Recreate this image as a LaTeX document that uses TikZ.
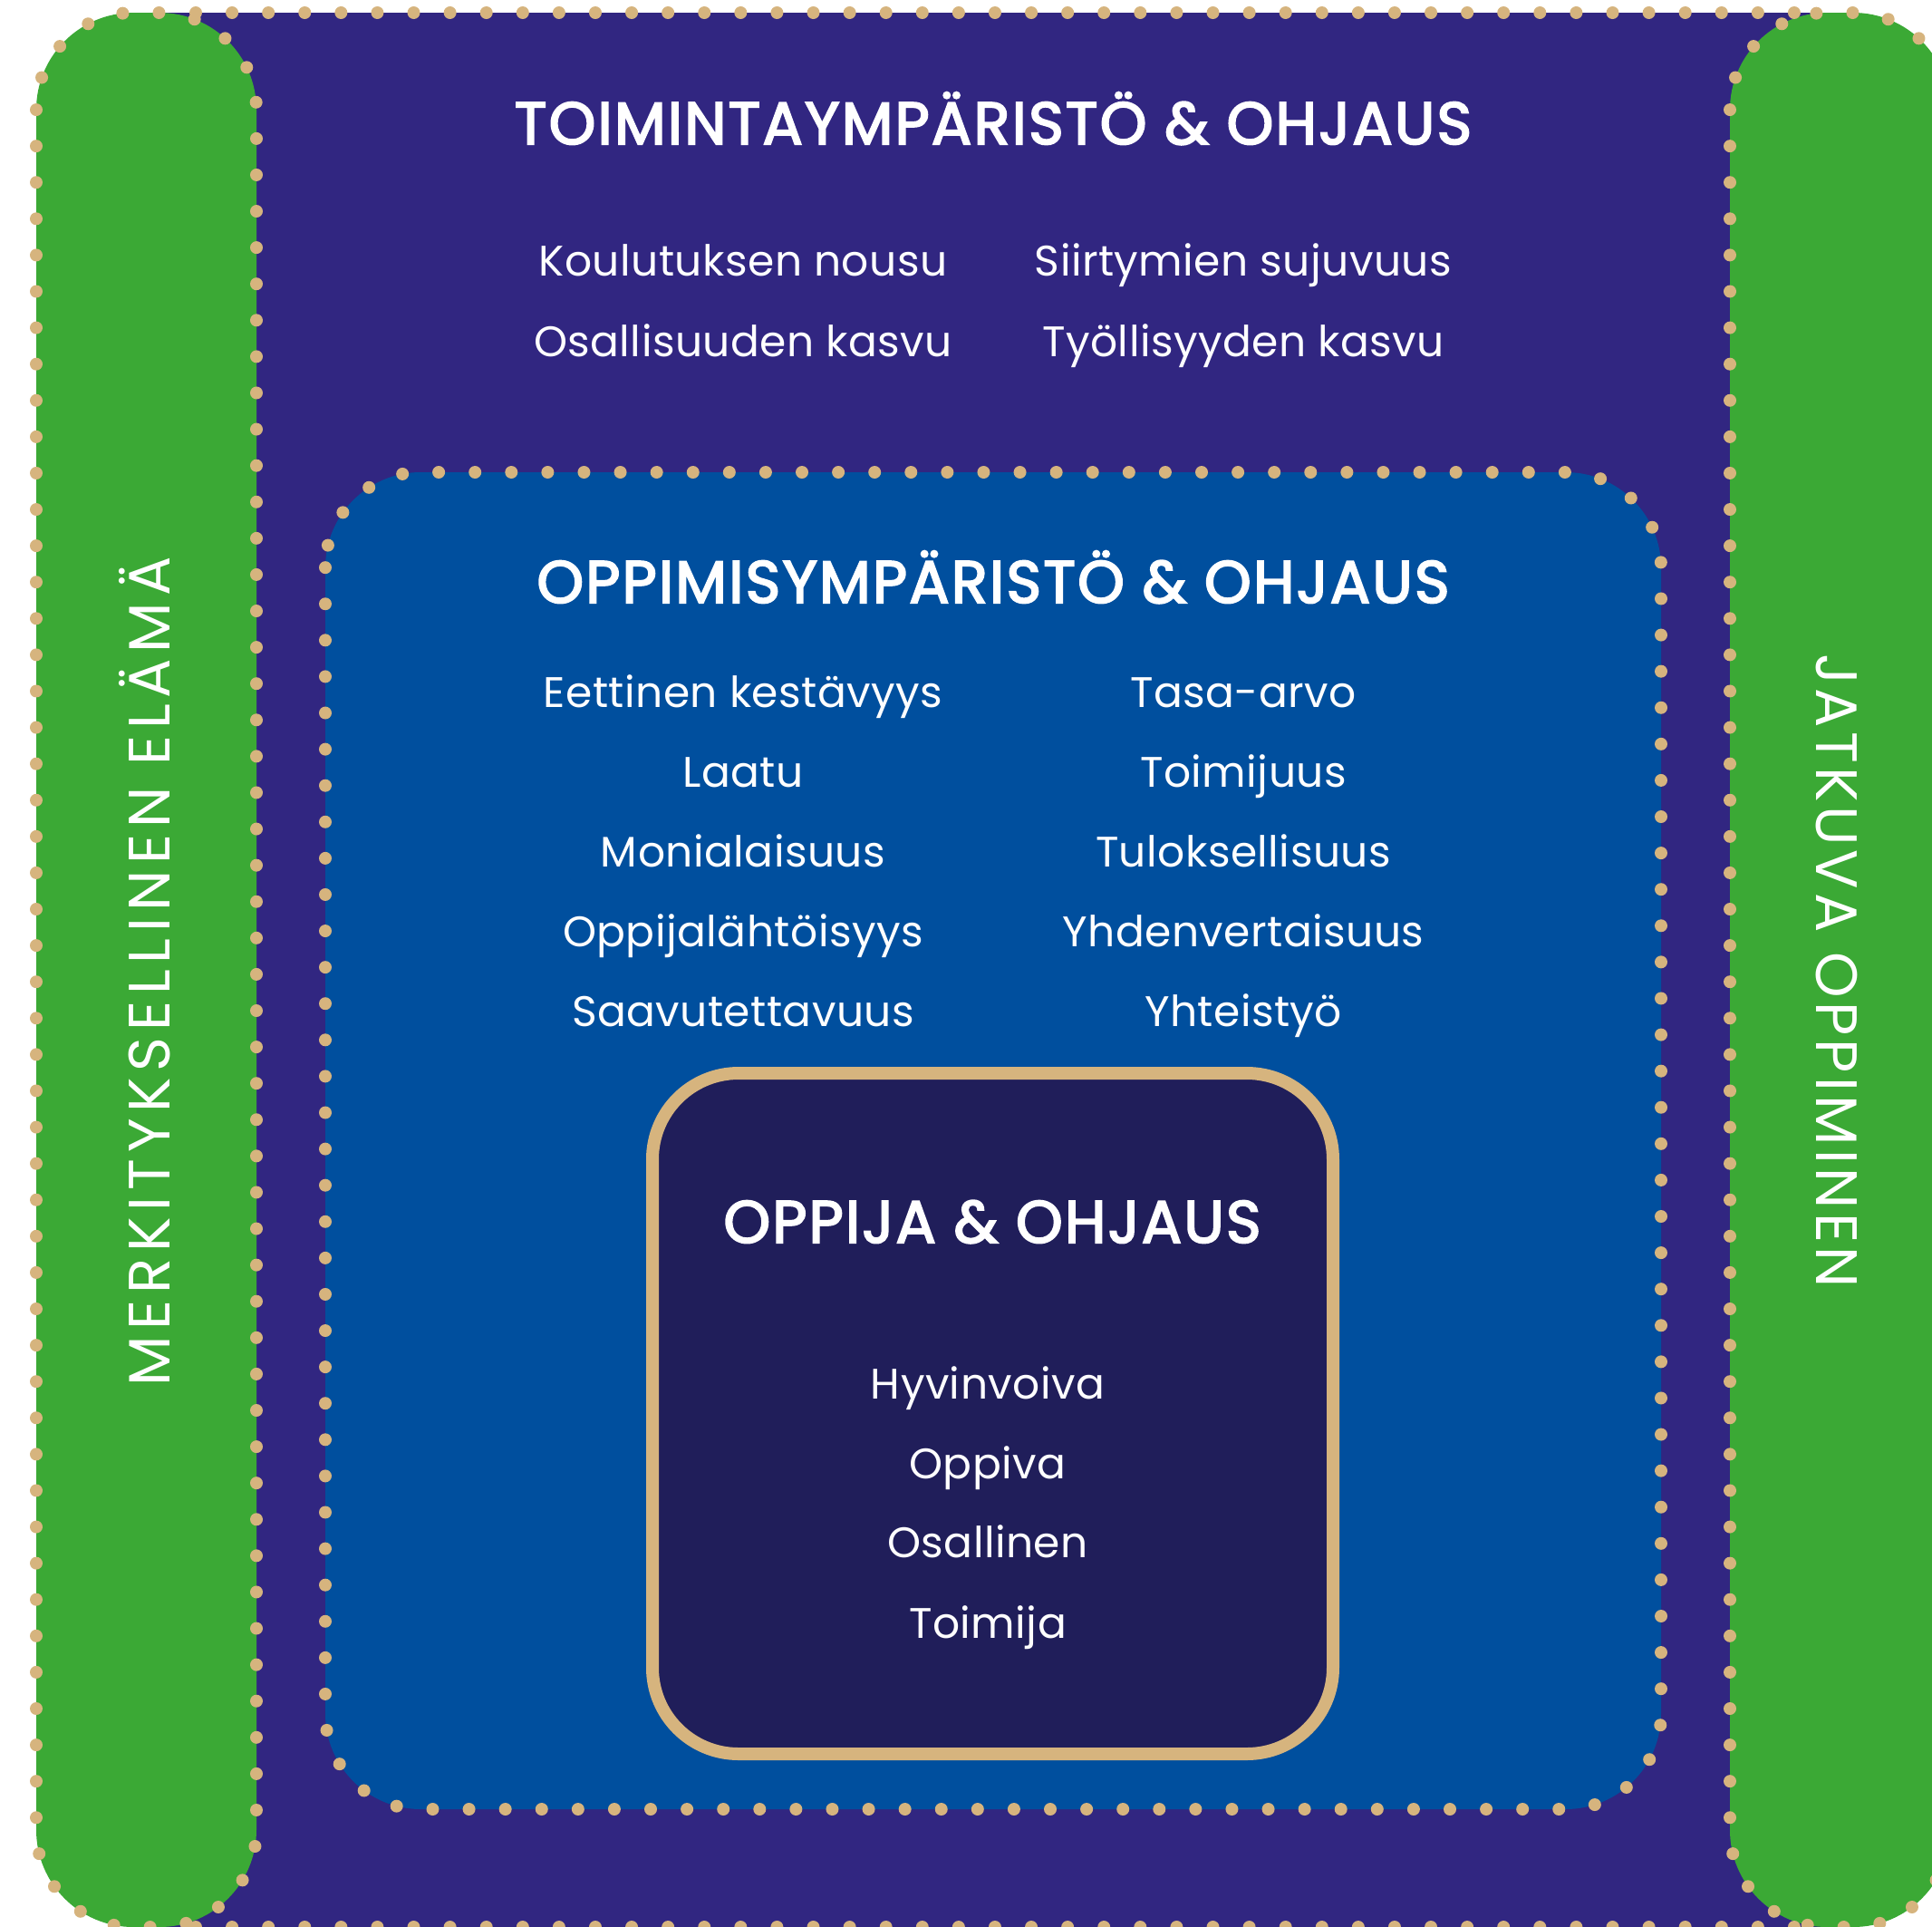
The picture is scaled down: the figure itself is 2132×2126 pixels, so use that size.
\documentclass[tikz,border=0pt]{standalone}
\usepackage{fontspec}
\setmainfont{Poppins}
\newfontfamily\ttlfont{Poppins}[FakeBold=3,LetterSpace=3.4]
\newfontfamily\itemfont{Poppins}[LetterSpace=1]
\newfontfamily\sidefontA{Poppins}[LetterSpace=10.6]
\newfontfamily\sidefontB{Poppins}[LetterSpace=6.8]
\definecolor{cpurple}{RGB}{49,38,129}
\definecolor{cgreen}{RGB}{59,169,53}
\definecolor{cblue}{RGB}{0,79,158}
\definecolor{cnavy}{RGB}{32,30,90}
\definecolor{ctan}{RGB}{214,180,126}
\begin{document}
\begin{tikzpicture}[x=0.01cm,y=-0.01cm,
  dotline/.style={draw=ctan, line width=3.98pt, line cap=round, dash pattern=on 0pt off 11.4pt},
  item/.style={text=white, inner sep=0pt, anchor=base, font=\itemfont\fontsize{13.4}{16}\selectfont},
  ttl/.style={text=white, inner sep=0pt, anchor=base, font=\ttlfont\fontsize{18.7}{22}\selectfont},
  side/.style={text=white, inner sep=0pt, anchor=base}]
\useasboundingbox (0,0) rectangle (2132,2126);
\clip (0,0) rectangle (2132,2126);
% outer purple area
\fill[cpurple] (160,14) rectangle (2030,2126);
% green pills
\fill[cgreen, rounded corners=30.44pt] (40,14) rectangle (283,2126);
\fill[cgreen, rounded corners=30.44pt] (1909,14) rectangle (2152,2126);
\draw[dotline, rounded corners=30.44pt] (40,14) rectangle (283,2126);
\draw[dotline, rounded corners=30.44pt] (1909,14) rectangle (2152,2126);
\draw[dotline] (216,14) -- (2016,14);
\draw[dotline] (216,2126) -- (2016,2126);
% blue learning environment
\fill[cblue, rounded corners=29.9pt] (359,521) rectangle (1833,1996);
\draw[dotline, rounded corners=29.9pt] (359,521) rectangle (1833,1996);
% inner learner box
\draw[draw=ctan, fill=cnavy, line width=3.98pt, rounded corners=27pt] (720,1184) rectangle (1471,1935);
% texts
\node[ttl] (t1) at (1096,159) {TOIMINTAYMPÄRISTÖ \& OHJAUS};
\node[item] (a1) at (820,304) {Koulutuksen nousu};
\node[item] (a2) at (820,393) {Osallisuuden kasvu};
\node[item] (b1) at (1372,304) {Siirtymien sujuvuus};
\node[item] (b2) at (1372,393) {Työllisyyden kasvu};
\node[ttl] (t2) at (1096,665) {OPPIMISYMPÄRISTÖ \& OHJAUS};
\node[item] (c1) at (820,780) {Eettinen kestävyys};
\node[item] (c2) at (820,868) {Laatu};
\node[item] (c3) at (820,956) {Monialaisuus};
\node[item] (c4) at (820,1044) {Oppijalähtöisyys};
\node[item] (c5) at (820,1132) {Saavutettavuus};
\node[item] (d1) at (1372,780) {Tasa-arvo};
\node[item] (d2) at (1372,868) {Toimijuus};
\node[item] (d3) at (1372,956) {Tuloksellisuus};
\node[item] (d4) at (1372,1044) {Yhdenvertaisuus};
\node[item] (d5) at (1372,1132) {Yhteistyö};
\node[ttl] (t3) at (1095,1371) {OPPIJA \& OHJAUS};
\node[item] (e1) at (1090,1543) {Hyvinvoiva};
\node[item] (e2) at (1090,1631) {Oppiva};
\node[item] (e3) at (1090,1718) {Osallinen};
\node[item] (e4) at (1090,1807) {Toimija};
\node[side, rotate=90, font=\sidefontA\fontsize{18.3}{22}\selectfont] (s1) at (187,1072) {MERKITYKSELLINEN ELÄMÄ};
\node[side, rotate=-90, font=\sidefontB\fontsize{18.3}{22}\selectfont] (s2) at (2004,1071) {JATKUVA OPPIMINEN};
\end{tikzpicture}
\end{document}
